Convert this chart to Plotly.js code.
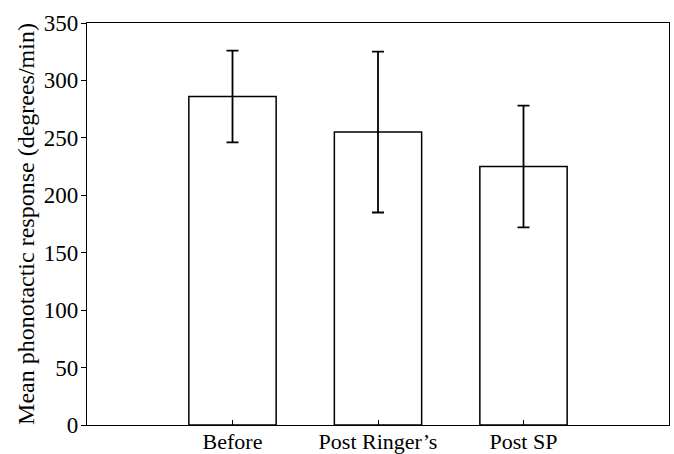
<!DOCTYPE html>
<html>
<head>
<meta charset="utf-8">
<script src="https://cdn.plot.ly/plotly-3.0.1.min.js"></script>
<style>html,body{margin:0;padding:0;background:#fff;}#chart{width:674px;height:454px;}</style>
</head>
<body>
<div id="chart"></div>
<script>
const categories = ["Before", "Post Ringer\u2019s", "Post SP"];
const meanResponse = [286, 255, 225];
const errorValues = [40, 70, 53];
const yTickValues = [0, 50, 100, 150, 200, 250, 300, 350];

const family = "Liberation Serif, Times New Roman, serif";
const tickFont = {family: family, size: 23, color: "#000"};
const xTickFont = {family: family, size: 22, color: "#000"};
const titleFont = {family: family, size: 24, color: "#000"};

const trace = {
  type: "bar",
  x: [0, 1, 2],
  y: meanResponse,
  width: 0.6,
  marker: {color: "#fff", line: {color: "#000", width: 1.5}},
  error_y: {type: "data", array: errorValues, visible: true, color: "#000", thickness: 1.8, width: 6},
  hoverinfo: "skip"
};

const layout = {
  width: 674, height: 454,
  margin: {l: 87, r: 5, t: 23, b: 29, pad: 0},
  paper_bgcolor: "#fff", plot_bgcolor: "#fff",
  font: tickFont,
  showlegend: false,
  xaxis: {
    range: [-1, 3],
    tickmode: "array", tickvals: [0, 1, 2], ticktext: categories,
    ticks: "inside", ticklen: 5, tickwidth: 1, tickcolor: "#000",
    showline: true, linecolor: "#000", linewidth: 1.2, mirror: true,
    showgrid: false, zeroline: false,
    tickfont: xTickFont, ticklabelstandoff: -4, fixedrange: true
  },
  yaxis: {
    range: [0, 350],
    tickmode: "array", tickvals: yTickValues,
    ticks: "outside", ticklen: 5, tickwidth: 1, tickcolor: "#000",
    showline: true, linecolor: "#000", linewidth: 1.2, mirror: true,
    showgrid: false, zeroline: false,
    tickfont: tickFont, ticklabelstandoff: -2,
    title: {text: "Mean phonotactic response (degrees/min)", font: titleFont, standoff: 2},
    fixedrange: true
  }
};

Plotly.newPlot("chart", [trace], layout, {displayModeBar: false, staticPlot: true});
</script>
</body>
</html>
